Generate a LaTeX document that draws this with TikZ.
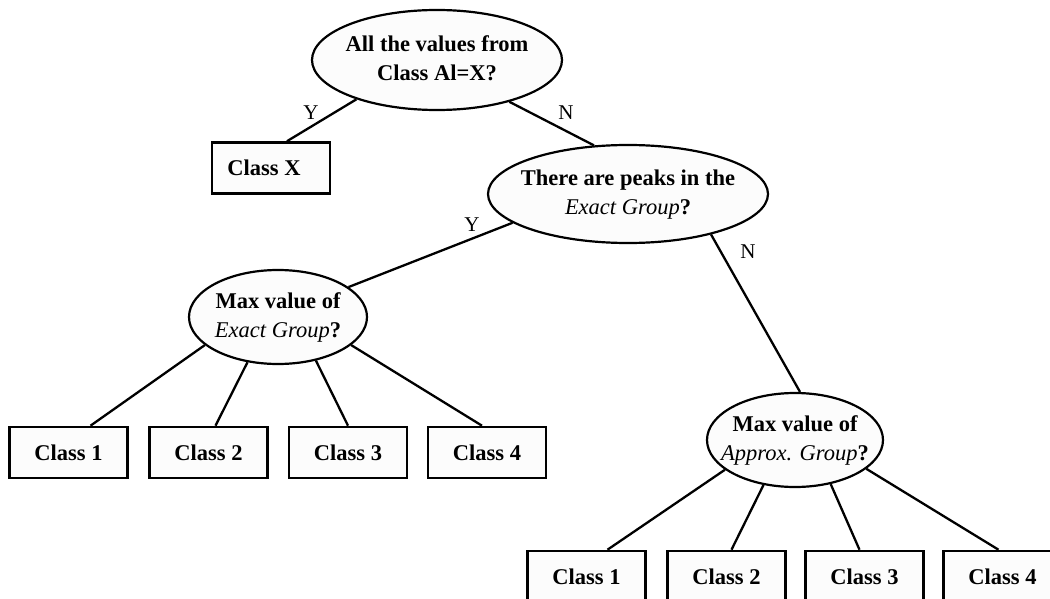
\documentclass[tikz,border=0pt]{standalone}
\usepackage{fontspec}
\setmainfont{Liberation Serif}
\usetikzlibrary{shapes.geometric}
\newcommand{\ztext}[1]{\makebox[0pt]{\begin{tabular}{@{}c@{}}#1\end{tabular}}}
\newcommand{\itx}[1]{{\mdseries\itshape #1}}
\begin{document}
\begin{tikzpicture}[x=1pt,y=-1pt,
  qnode/.style 2 args={ellipse, draw, line width=2.2pt, fill=black!1, inner sep=0pt,
    minimum width=#1, minimum height=#2, font=\fontsize{22.5}{29}\selectfont\bfseries},
  cbox/.style={rectangle, draw, line width=2.6pt, fill=black!1, inner sep=0pt,
    minimum width=118pt, minimum height=51pt, font=\fontsize{22.5}{29}\selectfont\bfseries},
  edge/.style={line width=2.3pt},
  lab/.style={font=\fontsize{21}{24}\selectfont, inner sep=0pt}]
\useasboundingbox (0,0) rectangle (1050,599);
% question nodes
\node[qnode={250pt}{100pt}] (e1) at (437,60) {\ztext{All the values from\\Class Al=X?}};
\node[qnode={280pt}{98pt}] (e2) at (628,194) {\ztext{There are peaks in the\\\itx{Exact Group}?}};
\node[qnode={178pt}{94pt}] (e3) at (278,317) {\ztext{Max value of\\\itx{Exact Group}?}};
\node[qnode={176pt}{94pt}] (e4) at (795,440) {\ztext{Max value of\\\itx{Approx. Group}?}};
% class boxes
\node[cbox] (cx) at (271,168) {\hspace*{-14pt}Class X};
\node[cbox] (a1) at (68.5,452.5) {Class 1};
\node[cbox] (a2) at (208.5,452.5) {Class 2};
\node[cbox] (a3) at (348,452.5) {Class 3};
\node[cbox] (a4) at (487,452.5) {Class 4};
\node[cbox] (b1) at (586.5,576.5) {Class 1};
\node[cbox] (b2) at (726.5,576.5) {Class 2};
\node[cbox] (b3) at (864.5,576.5) {Class 3};
\node[cbox] (b4) at (1002.5,576.5) {Class 4};
% connectors
\draw[edge] (e1.206) -- ([xshift=16pt]cx.north);
\draw[edge] (e1.330) -- (e2.125);
\draw[edge] (e2.194) -- (e3.23);
\draw[edge] (e2.334) -- (e4.84);
\draw[edge] (e3.201) -- ([xshift=22pt]a1.north);
\draw[edge] (e3.236) -- ([xshift=7pt]a2.north);
\draw[edge] (e3.311) -- (a3.north);
\draw[edge] (e3.339) -- ([xshift=-5pt]a4.north);
\draw[edge] (e4.203) -- ([xshift=21pt]b1.north);
\draw[edge] (e4.235) -- ([xshift=5pt]b2.north);
\draw[edge] (e4.309) -- ([xshift=-5pt]b3.north);
\draw[edge] (e4.338) -- ([xshift=-4pt]b4.north);
% branch labels
\node[lab] (ly1) at (311,113) {Y};
\node[lab] (ln1) at (566,113) {N};
\node[lab] (ly2) at (472,225) {Y};
\node[lab] (ln2) at (748,252) {N};
\end{tikzpicture}
\end{document}
